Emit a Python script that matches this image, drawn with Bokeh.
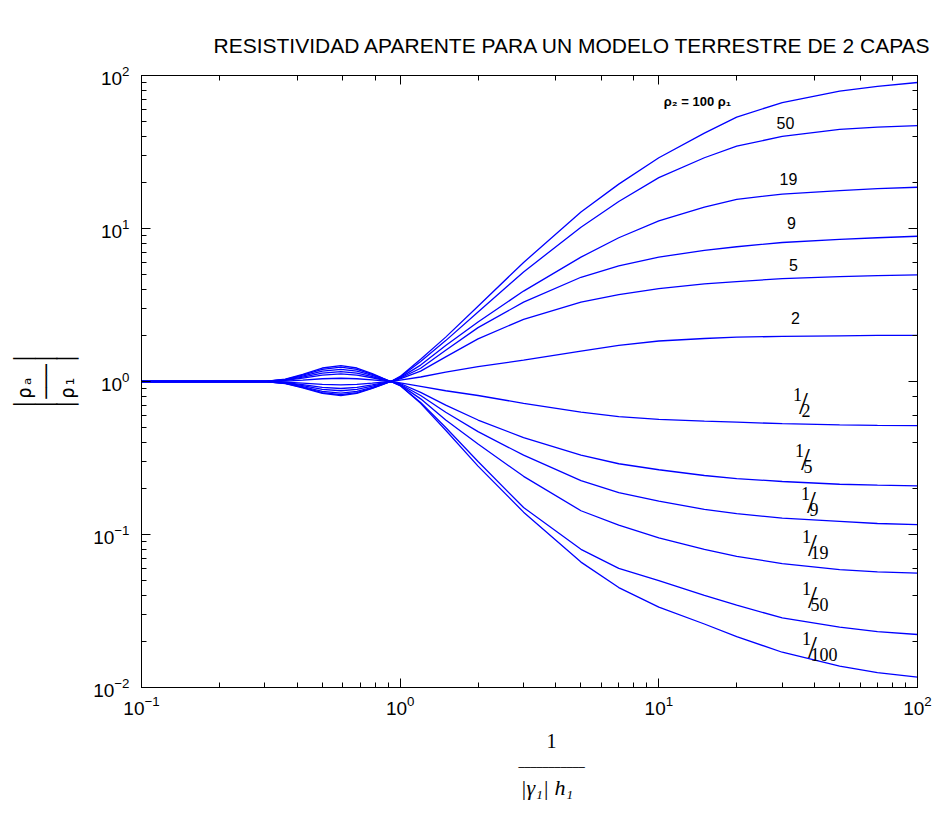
import numpy as np
from bokeh.plotting import figure
from bokeh.models import LogAxis, Label, Range1d, CustomJSTickFormatter, Title
from bokeh.embed import file_html
from bokeh.resources import INLINE

# x = 1 / (|gamma1| h1)
x_vals = [0.1, 0.3, 0.36, 0.42, 0.5, 0.59, 0.68, 0.78, 0.86, 0.92, 1.0, 1.2, 1.5,
          2, 3, 5, 7, 10, 15, 20, 30, 50, 70, 100]

# |rho_a / rho_1| for each rho_2 / rho_1 ratio
rho_100 = [1, 1, 1.036, 1.113, 1.225, 1.27, 1.225, 1.127, 1.049, 1.0, 1.08, 1.4, 1.95,
           3.1, 6.0, 12.8, 19.5, 29, 42, 53.5, 66.5, 79, 85, 90]
rho_50 = [1, 1, 1.033, 1.102, 1.20, 1.24, 1.20, 1.114, 1.044, 1.0, 1.07, 1.35, 1.85,
          2.85, 5.2, 10.2, 15, 21.5, 29, 34.5, 40, 44.5, 46, 47]
rho_19 = [1, 1, 1.028, 1.086, 1.168, 1.2, 1.168, 1.095, 1.037, 1.0, 1.06, 1.28, 1.72,
          2.45, 3.9, 6.5, 8.7, 11.2, 13.8, 15.5, 16.8, 17.7, 18.2, 18.6]
rho_9 = [1, 1, 1.022, 1.069, 1.134, 1.16, 1.134, 1.077, 1.030, 1.0, 1.05, 1.22, 1.6,
         2.25, 3.3, 4.8, 5.7, 6.5, 7.2, 7.6, 8.1, 8.5, 8.7, 8.9]
rho_5 = [1, 1, 1.017, 1.052, 1.101, 1.12, 1.101, 1.058, 1.023, 1.0, 1.04, 1.17, 1.45,
         1.9, 2.55, 3.3, 3.7, 4.05, 4.35, 4.5, 4.7, 4.85, 4.92, 4.98]
rho_2 = [1, 1, 1.007, 1.022, 1.042, 1.05, 1.042, 1.025, 1.01, 1.0, 1.02, 1.07, 1.15,
         1.25, 1.38, 1.58, 1.72, 1.84, 1.91, 1.95, 1.97, 1.99, 2.0, 2.0]
rho_1_2 = [1, 1, 0.992, 0.977, 0.957, 0.95, 0.957, 0.975, 0.99, 1.0, 0.98, 0.93, 0.87,
           0.81, 0.72, 0.63, 0.59, 0.565, 0.55, 0.542, 0.53, 0.52, 0.517, 0.515]
rho_1_5 = [1, 1, 0.984, 0.954, 0.915, 0.90, 0.915, 0.949, 0.979, 1.0, 0.97, 0.85, 0.70,
           0.56, 0.43, 0.33, 0.29, 0.265, 0.243, 0.232, 0.222, 0.213, 0.21, 0.208]
rho_1_9 = [1, 1, 0.979, 0.939, 0.889, 0.87, 0.889, 0.933, 0.972, 1.0, 0.96, 0.81, 0.63,
           0.47, 0.33, 0.225, 0.188, 0.165, 0.146, 0.137, 0.128, 0.122, 0.118, 0.116]
rho_1_19 = [1, 1, 0.974, 0.925, 0.862, 0.84, 0.862, 0.917, 0.966, 1.0, 0.95, 0.77, 0.56,
            0.39, 0.24, 0.143, 0.115, 0.095, 0.08, 0.072, 0.0645, 0.059, 0.057, 0.056]
rho_1_50 = [1, 1, 0.971, 0.915, 0.845, 0.82, 0.845, 0.906, 0.961, 1.0, 0.94, 0.73, 0.50,
            0.30, 0.15, 0.08, 0.06, 0.05, 0.04, 0.0345, 0.0285, 0.0248, 0.0232, 0.0222]
rho_1_100 = [1, 1, 0.969, 0.909, 0.836, 0.81, 0.836, 0.90, 0.959, 1.0, 0.94, 0.72, 0.48,
             0.28, 0.14, 0.066, 0.045, 0.0335, 0.026, 0.0215, 0.017, 0.0138, 0.0125, 0.0117]

series = [rho_100, rho_50, rho_19, rho_9, rho_5, rho_2,
          rho_1_2, rho_1_5, rho_1_9, rho_1_19, rho_1_50, rho_1_100]

int_labels = ["50", "19", "9", "5", "2"]
frac_denoms = ["2", "5", "9", "19", "50", "100"]
title_text = "RESISTIVIDAD APARENTE PARA UN MODELO TERRESTRE DE 2 CAPAS"

# ---- layout constants (pixels) ----
FL, FR, FT, FB = 141, 917, 75, 687
W, H = 940, 815

p = figure(width=W, height=H, x_axis_type="log", y_axis_type="log",
           x_range=Range1d(0.1, 100), y_range=Range1d(0.01, 100),
           output_backend="svg", toolbar_location=None,
           min_border_left=FL, min_border_right=W - FR,
           min_border_top=FT, min_border_bottom=H - FB)
p.grid.visible = False
p.outline_line_color = "black"
p.outline_line_width = 1
p.background_fill_color = "white"
p.border_fill_color = "white"

p.title.text = title_text
p.title.align = "left"
p.title.offset = 72
p.title.text_font = "Liberation Sans"
p.title.text_font_size = "21px"
p.title.text_font_style = "normal"
p.title.text_color = "black"
p.title.standoff = 28

for ax in [p.xaxis[0], p.yaxis[0]]:
    ax.major_tick_in = 9
    ax.major_tick_out = 0
    ax.minor_tick_in = 5
    ax.minor_tick_out = 0
    ax.axis_line_color = "black"
    ax.major_tick_line_color = "black"
    ax.minor_tick_line_color = "black"
    ax.major_label_text_font = "Liberation Sans"
    ax.major_label_text_font_size = "19px"
    ax.major_label_text_color = "black"
p.xaxis.major_label_standoff = 8
p.yaxis.major_label_standoff = 12

for loc in ["right", "above"]:
    ax = LogAxis(formatter=CustomJSTickFormatter(code="return ' '"))
    ax.major_tick_in = 9
    ax.major_tick_out = 0
    ax.minor_tick_in = 5
    ax.minor_tick_out = 0
    ax.major_label_text_font_size = "2px"
    ax.major_label_standoff = 0
    ax.axis_line_color = "black"
    p.add_layout(ax, loc)

for ys in series:
    p.line(x_vals, ys, line_color="#0000ff", line_width=1.3)

# x axis label: fraction 1 / (|gamma1| h1), stacked below the axis
p.add_layout(Title(text="1", align="left", offset=405, text_font="Liberation Serif",
                   text_font_size="20px", text_font_style="normal", text_color="black",
                   standoff=28), "below")
p.add_layout(Title(text="─" * 11, align="left", offset=377, text_font="DejaVu Sans Mono",
                   text_font_size="10px", text_font_style="normal", text_color="black",
                   vertical_align="top", standoff=0), "below")
p.add_layout(Title(text="|γ₁| h₁", align="left", offset=379, text_font="Liberation Serif",
                   text_font_size="22px", text_font_style="italic", text_color="black",
                   vertical_align="top", standoff=0), "below")

# y axis label: rotated |rho_a / rho_1|
p.add_layout(Title(text="│ρₐ │\n│───│\n│ρ₁ │", align="center", text_font="DejaVu Sans Mono",
                   text_font_size="19px", text_font_style="normal", text_line_height=0.98,
                   text_color="black", vertical_align="top", standoff=21), "left")


def sc(px, py):
    return px - FL, FB - py


def lab(px, py, text, font="Liberation Sans", size="16px", align="center",
        baseline="middle", style="normal"):
    x, y = sc(px, py)
    p.add_layout(Label(x=x, y=y, x_units="screen", y_units="screen", text=text,
                       text_font=font, text_font_size=size, text_align=align,
                       text_baseline=baseline, text_color="black",
                       text_font_style=style))


# curve labels
lab(697, 101, "ρ₂ = 100 ρ₁", size="13px", style="bold")
int_pos = [(785, 122), (788, 178), (791, 222), (793, 264), (795, 317)]
for t, (px, py) in zip(int_labels, int_pos):
    lab(px, py, t, size="16px")

frac_pos = [(803, 402), (805, 458), (811, 501), (812, 544), (812, 596), (812, 646)]
for d, (px, py) in zip(frac_denoms, frac_pos):
    lab(px - 6, py - 8, "1", font="Liberation Serif", size="18px")
    lab(px, py, "/", font="Liberation Serif", size="32px")
    lab(px - 2, py + 8, d, font="Liberation Serif", size="18px", align="left")

open("out.html", "w").write(file_html(p, INLINE))
